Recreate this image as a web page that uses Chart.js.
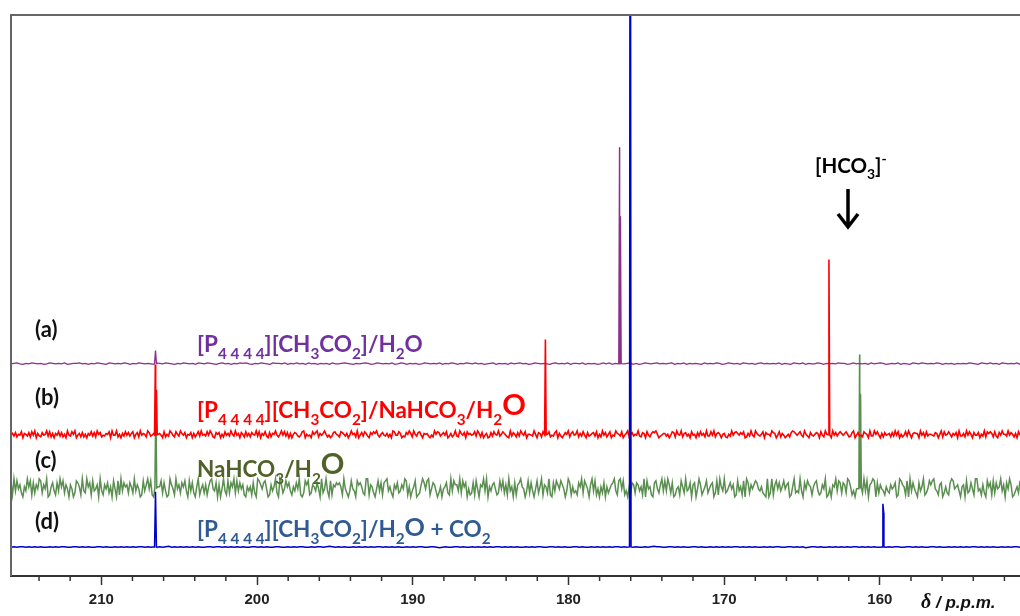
<!DOCTYPE html>
<html>
<head>
<meta charset="utf-8">
<script src="https://cdn.jsdelivr.net/npm/chart.js@4.4.1/dist/chart.umd.min.js"></script>
<style>
  html, body { margin: 0; padding: 0; background: #fff; }
  #wrap { width: 1020px; height: 616px; position: relative; }
</style>
</head>
<body>
<div id="wrap"><canvas id="nmr"></canvas></div>
<script>
// chemical shift range shown (ppm, left -> right)
const ppmLeft = 215.8
const ppmRight = 151.0
const tickLabels = [210, 200, 190, 180, 170, 160]

// stacked offsets of each trace (intensity units)
const offsets = { a: 212, b: 141, c: 88, d: 29 }

// peaks: [ppm, height, half width]
const peaksA = [[206.52, 13, 0.06], [176.72, 216, 0.05], [176.66, 147, 0.05]]
const peaksB = [[206.53, 70, 0.05], [206.46, 45, 0.05], [181.48, 95, 0.05], [163.27, 175, 0.05]]
const peaksC = [[206.50, 86, 0.06], [161.30, 133, 0.05], [161.24, 94, 0.05]]
const peaksD = [[206.52, 55, 0.06], [176.03, 1000, 0.05], [159.80, 43, 0.06], [159.75, 34, 0.06]]

// baseline noise (digit 0-9 around a middle of 4.5)
const noiseA = `4564354654 5346545463 4556453546 5436545465 3546545436 5465435465 4536546543 5645354656
  4354654365 5463546453 6453545364 4565435456 5346545463 4653545346 5454635465 3546546453 4563545364
  5645346545 4356454635 5463545346 4635454563 5346545645 4563546354 5436454653 4654536545 3564545463
  5436546354 4653545465 5346454536 4565345463 5436546545 4653545354 5465436546 4536545463`
const noiseB = `4637254816 5372849163 2745938261 6483725194 3859146272 5164837295 7243658194 4925163847
  3681572946 5297346815 6418253974 2853964715 4716258394 5384962175 7152846395 3946175283 6275493816
  4831726594 2594837161 5763248915 3418579264 6952413785 4287536149 5629147386 3175869425 7436251984
  4861327596 2953784165 6314295873 5748136249 3296471856 4583962714 6127385493 5864219375 2739648155
  4395176284 6582437916 3147592684 5926384173 4673815294 7258143965 3814692573 5493276184 2687951346
  6351487295 4926735184 5173846293 3849267515 6215394786 4758126394 2964358175 5397614826 4135279864
  6842953174 3576184295 5219473686 4685237914 7342865193 3958416274 5627394815 2483951676 6194728355
  4376159284 5852647193 3629485174 4715392868 6283174955 3947526184`
const noiseC = `7193846205 3958172649 8264901573 1739582640 6402875193 2957183460 9316472508 4081937562
  7529364018 3694810275 5827301964 1946275830 8372059146 2615894370 6049318275 9283746105 3517209864
  7840163592 0962485731 5374910286 8126537409 2493081657 6751942038 4308675219 9165204837 1789352064
  7236498150 3580126974 8914763025 0457219386 6392857041 2718406593 9053674128 4826193507 1679540382
  7304825916 5291073864 8640397152 3175928640 6938140527 0524679318 9481305276 2763519084 5107842693
  8396270145 1852934706 7049613582 4670281953 9235746018 3518097264 6874352109 0291684735 8467015923
  2930748651 5783126490 1406593872 7629851304 4152938067 9807264315 3264570198 6518093742 0735912486
  8943167025 2179845630 5608237419 9341620857 1827459360 7496013528`
const noiseD = `4545545454 5445454554 4554545445 5454454545 4545545454 5456454545 4545445545 5454545454
  4554545445 5445454554 4545545654 5454454545 4545545454 5445454554 4554345445 5454454545 4545545454
  5445454554 4554545445 5454454545 4545545454 5445456554 4554545445 5454454545 4545545454 5445454554
  4554545345 5454454545 4545545454 5445454554 4554545445 5454454545 4545545454 5445454554`

const noiseAmp = { a: 0.45, b: 0.85, c: 2.0, d: 0.5 }

// text on the plot
const sampleTags = ['(a)', '(b)', '(c)', '(d)']
const nameA = [['[P'], ['4 4 4 4', 'sub'], ['][CH'], ['3', 'sub'], ['CO'], ['2', 'sub'], [']/H'], ['2', 'sub'], ['O']]
const nameB = [['[P'], ['4 4 4 4', 'sub'], ['][CH'], ['3', 'sub'], ['CO'], ['2', 'sub'], [']/NaHCO'], ['3', 'sub'], ['/H'], ['2', 'sub'], ['O', 'big']]
const nameC = [['NaHCO'], ['3', 'sub'], ['/H'], ['2', 'sub'], ['O', 'big']]
const nameD = [['[P'], ['4 4 4 4', 'sub'], ['][CH'], ['3', 'sub'], ['CO'], ['2', 'sub'], [']/H'], ['2', 'sub'], ['O', 'mid'], [' + CO'], ['2', 'sub']]
const ionLabel = [['[HCO'], ['3', 'sub'], [']'], ['-', 'sup']]

function trace(offset, noiseText, amp, peaks) {
  const noise = noiseText.replace(/\s/g, '')
  const pts = []
  const n = noise.length
  for (let i = 0; i < n; i++) {
    const x = ppmLeft - (ppmLeft - ppmRight) * i / (n - 1)
    if (peaks.some(p => Math.abs(x - p[0]) < p[2] + 0.02)) continue
    pts.push({ x: x, y: offset + (noise.charCodeAt(i) - 52.5) * amp })
  }
  peaks.forEach(p => {
    pts.push({ x: p[0] + p[2], y: offset }, { x: p[0], y: offset + p[1] }, { x: p[0] - p[2], y: offset })
  })
  pts.sort((u, v) => v.x - u.x)
  return pts
}

function richText(ctx, segs, x, y, size, color) {
  ctx.fillStyle = color
  ctx.textBaseline = 'alphabetic'
  ctx.textAlign = 'left'
  segs.forEach(s => {
    let fs = size, dy = 0
    if (s[1] === 'sub') { fs = size * 0.68; dy = size * 0.3 }
    if (s[1] === 'sup') { fs = size * 0.68; dy = -size * 0.42 }
    if (s[1] === 'big') { fs = size * 1.3; dy = -size * 0.12 }
    if (s[1] === 'mid') { fs = size * 1.12; dy = -size * 0.06 }
    ctx.font = 'bold ' + fs + 'px Lato'
    ctx.fillText(s[0], x, y + dy)
    x += ctx.measureText(s[0]).width
  })
}

const decorations = {
  id: 'decorations',
  afterDraw(chart) {
    const ctx = chart.ctx
    const a = chart.chartArea
    const xs = chart.scales.x
    ctx.save()
    // frame
    ctx.strokeStyle = '#666'
    ctx.lineWidth = 2
    ctx.beginPath()
    ctx.moveTo(a.left, a.bottom)
    ctx.lineTo(a.left, a.top)
    ctx.lineTo(a.right + 2, a.top)
    ctx.stroke()
    // minor ticks
    ctx.strokeStyle = '#333'
    ctx.lineWidth = 1.5
    for (let v = 152; v <= 214; v += 2) {
      if (v % 10 === 0) continue
      const px = xs.getPixelForValue(v)
      ctx.beginPath()
      ctx.moveTo(px, a.bottom)
      ctx.lineTo(px, a.bottom + 5)
      ctx.stroke()
    }
    // sample tags
    ctx.fillStyle = '#111'
    ctx.font = 'bold 22px Lato'
    const tagY = [337, 405, 468, 529]
    sampleTags.forEach((t, i) => ctx.fillText(t, 35, tagY[i]))
    // sample names
    richText(ctx, nameA, 197, 352, 22.5, '#7030A0')
    richText(ctx, nameB, 197, 418, 22.5, '#FF0000')
    richText(ctx, nameC, 197, 477, 22.5, '#4F6228')
    richText(ctx, nameD, 197, 537, 22.5, '#2F5A94')
    richText(ctx, ionLabel, 815, 173, 20.5, '#000')
    // arrow
    ctx.strokeStyle = '#000'
    ctx.lineWidth = 3.5
    ctx.beginPath()
    ctx.moveTo(848, 189)
    ctx.lineTo(848, 226)
    ctx.moveTo(838, 214)
    ctx.lineTo(848, 227)
    ctx.lineTo(858, 214)
    ctx.stroke()
    // axis title
    ctx.fillStyle = '#111'
    ctx.font = 'italic bold 20px "Liberation Serif"'
    const tx = 921, ty = 608
    ctx.fillText('\u03b4', tx, ty)
    const w = ctx.measureText('\u03b4').width
    ctx.font = 'italic bold 17px "Liberation Sans"'
    ctx.fillText(' / p.p.m.', tx + w, ty)
    ctx.restore()
  }
}

new Chart(document.getElementById('nmr'), {
  type: 'line',
  data: {
    datasets: [
      { label: 'd', data: trace(offsets.d, noiseD, noiseAmp.d, peaksD), borderColor: '#0000C8', borderWidth: 1.5, order: 0 },
      { label: 'b', data: trace(offsets.b, noiseB, noiseAmp.b, peaksB), borderColor: '#FF0000', borderWidth: 1.6, order: 1 },
      { label: 'a', data: trace(offsets.a, noiseA, noiseAmp.a, peaksA), borderColor: '#8B2F8B', borderWidth: 1.3, order: 2 },
      { label: 'c', data: trace(offsets.c, noiseC, noiseAmp.c, peaksC), borderColor: '#5A8F50', borderWidth: 1.5, order: 3 }
    ]
  },
  options: {
    responsive: true,
    maintainAspectRatio: false,
    animation: false,
    layout: { padding: { left: 11, top: 15, right: 0, bottom: 1 } },
    elements: { point: { radius: 0 }, line: { tension: 0 } },
    plugins: { legend: { display: false }, tooltip: { enabled: false } },
    scales: {
      x: {
        type: 'linear',
        reverse: true,
        min: ppmRight,
        max: ppmLeft,
        afterBuildTicks: s => { s.ticks = tickLabels.map(v => ({ value: v })) },
        grid: { drawOnChartArea: false, drawTicks: true, tickLength: 9, tickColor: '#333', tickWidth: 1.5 },
        border: { display: true, color: '#333', width: 2 },
        ticks: { color: '#222', padding: 6, maxRotation: 0, autoSkip: false, font: { family: 'Liberation Sans', weight: 'bold', size: 15 } }
      },
      y: { display: false, min: 0, max: 560 }
    }
  },
  plugins: [decorations]
})
</script>
</body>
</html>
